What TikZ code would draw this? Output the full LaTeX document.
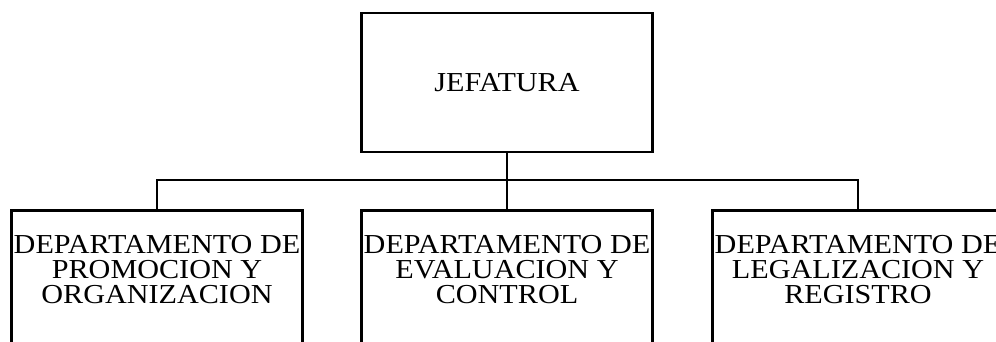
\documentclass[tikz,border=0pt]{standalone}
\usepackage{fontspec}
\setmainfont{Liberation Serif}[FakeStretch=1.1]
\usepackage{tikz}
\usetikzlibrary{positioning}

\tikzset{
  unitbox/.style = {draw, line width=1.9pt, minimum width=7.275cm, inner sep=0pt},
  unittext/.style = {align=center, inner sep=0pt, anchor=north},
  orgfont/.style = {font=\fontsize{19.5}{17.8}\selectfont}
}

\begin{document}
\begin{tikzpicture}[x=0.025cm, y=-0.025cm, orgfont]
    \useasboundingbox (0,0) rectangle (996,342);
    \clip (0,0) rectangle (996,342);
    % jefatura
    \node[unitbox, minimum height=3.475cm] (jefatura) at (507,82.5) {JEFATURA};
    % departamentos
    \node[unitbox, minimum height=4cm, anchor=north] (promocion) at (157,209) {};
    \node[unitbox, minimum height=4cm, anchor=north] (evaluacion) at (507,209) {};
    \node[unitbox, minimum height=4cm, anchor=north] (legalizacion) at (858,209) {};
    \node[unittext, below=0.66cm of promocion.north] (promocionT) {DEPARTAMENTO DE\\PROMOCION Y\\ORGANIZACION};
    \node[unittext, below=0.66cm of evaluacion.north] (evaluacionT) {DEPARTAMENTO DE\\EVALUACION Y\\CONTROL};
    \node[unittext, below=0.66cm of legalizacion.north] (legalizacionT) {DEPARTAMENTO DE\\LEGALIZACION Y\\REGISTRO};
    % lineas
    \coordinate (bus) at (0,180);
    \draw[line width=1.9pt] (jefatura.south) -- (evaluacion.north);
    \draw[line width=1.9pt] (promocion.north) -- (promocion.north |- bus) -- (legalizacion.north |- bus) -- (legalizacion.north);
\end{tikzpicture}
\end{document}
